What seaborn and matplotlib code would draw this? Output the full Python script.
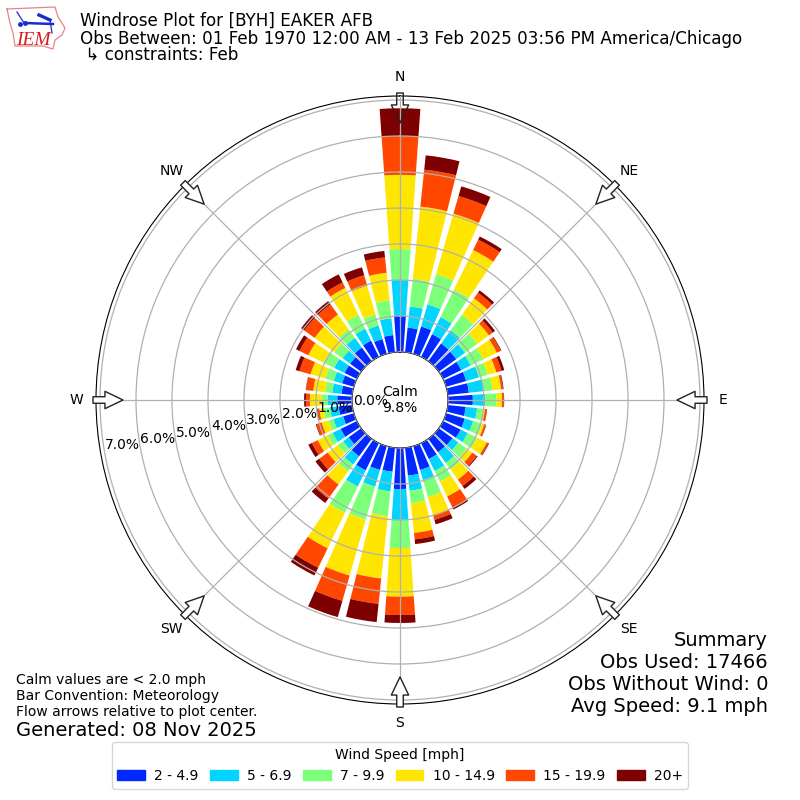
import numpy as np
import pandas as pd
import matplotlib
matplotlib.use("Agg")
import matplotlib.pyplot as plt
import seaborn as sns
from matplotlib.patches import Patch

directions = list(range(0, 360, 10))
band_labels = ["2 - 4.9", "5 - 6.9", "7 - 9.9", "10 - 14.9", "15 - 19.9", "20+"]
band_colors = ["#0028ff", "#00d4ff", "#7cff79", "#ffe600", "#ff4700", "#7f0000"]

# cumulative frequency [%] up to the top of each speed band, N clockwise
upto_4_9 = [1.0, .69, .79, .7, .61, .6, .56, .58, .59, .69, .5, .54, .54, .47, .46, .49, .69, .78,
            1.14, .67, .69, .84, .6, .43, .5, .31, .38, .41, .3, .34, .38, .38, .47, .5, .43, .48]
upto_6_9 = [2.0, 1.28, 1.43, 1.23, 1.06, .9, .85, .95, 1.0, 1.03, .82, .78, .76, .67, .83, .86, .98, 1.2,
            2.0, 1.22, 1.17, 1.34, .88, .62, .75, .59, .62, .68, .56, .58, .7, .64, .8, .87, .82, .95]
upto_9_9 = [2.86, 2.05, 2.3, 2.08, 1.59, 1.32, 1.24, 1.2, 1.25, 1.35, .99, 1.03, 1.05, .96, 1.05, 1.19, 1.47, 1.55,
            2.78, 1.91, 2.12, 2.15, 1.12, .8, .91, .73, .8, .84, .75, .83, 1.02, .92, 1.09, 1.3, 1.14, 1.45]
upto_14_9 = [4.92, 4.07, 4.05, 3.3, 2.16, 1.72, 1.66, 1.45, 1.49, 1.5, 1.04, 1.1, 1.35, 1.15, 1.4, 1.65, 2.0, 2.38,
             4.13, 3.65, 3.74, 3.25, 1.57, 1.15, 1.21, .93, .92, 1.17, 1.09, 1.25, 1.5, 1.6, 1.6, 2.13, 1.97, 2.22]
upto_19_9 = [6.0, 5.1, 4.56, 3.62, 2.35, 1.85, 1.78, 1.6, 1.54, 1.55, 1.09, 1.15, 1.4, 1.3, 1.62, 2.0, 2.13, 2.56,
             4.64, 4.36, 4.47, 3.85, 2.05, 1.44, 1.39, 1.08, .97, 1.28, 1.29, 1.57, 1.77, 1.95, 1.95, 2.3, 2.27, 2.65]
upto_max = [6.77, 5.5, 4.84, 3.72, 2.43, 1.93, 1.8, 1.68, 1.56, 1.56, 1.1, 1.16, 1.42, 1.33, 1.72, 2.05, 2.26, 2.69,
            4.86, 4.87, 4.94, 4.09, 2.2, 1.57, 1.5, 1.1, .99, 1.33, 1.3, 1.68, 1.88, 2.06, 2.06, 2.55, 2.5, 2.83]

compass_angles = [0, 45, 90, 135, 180, 225, 270, 315]
compass_labels = ["N", "NE", "E", "SE", "S", "SW", "W", "NW"]
radial_ticks = [0, 1, 2, 3, 4, 5, 6, 7]


def draw_logo(fig):
    ax = fig.add_axes([0, 1 - 52 / 800, 70 / 800, 52 / 800])
    ax.set_xlim(0, 70)
    ax.set_ylim(52, 0)
    ax.axis("off")
    ox = [7, 55, 58, 65, 62, 55, 53, 43, 15, 13, 10, 7]
    oy = [9, 7, 17, 28, 35, 40, 49, 46, 46, 33, 23, 9]
    ax.plot(ox, oy, color="#e58585", lw=0.9)
    ax.plot([17, 24], [12, 23], color="#1a2bd0", lw=0.9)
    ax.plot([25, 53], [23, 24], color="#1a2bd0", lw=1.8)
    ax.plot([39, 50], [15, 20], color="#1a2bd0", lw=2.4)
    ax.plot([50, 52], [20, 33], color="#1a2bd0", lw=0.9)
    ax.plot([25, 20], [23, 24], "o", color="#1a2bd0", ms=2.5)
    ax.text(16, 45, "IEM", color="#d22020", fontsize=14, family="Liberation Serif",
            style="italic", va="baseline")


def main():
    fig = plt.figure(figsize=(8, 8), dpi=100)
    ax = fig.add_axes([0.12, 0.12, 0.76, 0.76], projection="polar")
    ax.set_theta_zero_location("N")
    ax.set_theta_direction(-1)

    theta = np.deg2rad(directions)
    bands = [upto_4_9, upto_6_9, upto_9_9, upto_14_9, upto_19_9, upto_max]
    bottom = np.zeros(len(directions))
    for band, color in zip(bands, sns.color_palette(band_colors)):
        df = pd.DataFrame({"theta": theta, "freq": np.array(band) - bottom})
        sns.barplot(data=df, x="theta", y="freq", ax=ax, color=color, saturation=1,
                    native_scale=True, width=0.8, errorbar=None, bottom=bottom, linewidth=0)
        bottom = np.array(band)

    ax.set_xlabel("")
    ax.set_ylabel("")
    ax.set_axisbelow(False)
    ax.set_rorigin(-48 / 36)
    ax.set_rmin(0)
    ax.set_rmax(256 / 36)
    ax.set_thetagrids(compass_angles, compass_labels, fontsize=10)
    ax.set_rgrids(radial_ticks, [f"{v:.1f}%" for v in radial_ticks], fontsize=10)
    ax.set_rlabel_position(260)
    ax.grid(True, color="#b0b0b0", lw=0.9)

    # flow arrows pointing at the plot center
    for angle in compass_angles:
        ax.annotate("", xy=(np.deg2rad(angle), (277 - 48) / 36), xytext=(np.deg2rad(angle), (307 - 48) / 36),
                    annotation_clip=False, zorder=4,
                    arrowprops=dict(arrowstyle="simple,head_length=13,head_width=12.5,tail_width=4.7",
                                    mutation_scale=1, shrinkA=0, shrinkB=0, lw=1, ec="#222222",
                                    fc="none" if angle == 0 else "white"))

    ax.text(0.5, 0.5, "Calm\n9.8%", transform=ax.transAxes, ha="center", va="center", fontsize=10, zorder=5)

    fig.text(80 / 800, 1 - 21 / 800, "Windrose Plot for [BYH] EAKER AFB", fontsize=12.05, va="center")
    fig.text(80 / 800, 1 - 38.5 / 800, "Obs Between: 01 Feb 1970 12:00 AM - 13 Feb 2025 03:56 PM America/Chicago",
             fontsize=12.05, va="center")
    fig.text(80 / 800, 1 - 55 / 800, " \u21b3 constraints: Feb", fontsize=12.05, va="center")

    summary = ["Summary", "Obs Used: 17466", "Obs Without Wind: 0", "Avg Speed: 9.1 mph"]
    for i, line in enumerate(summary):
        fig.text(768 / 800, 1 - (640 + 22 * i) / 800, line, fontsize=14, ha="right", va="center")

    notes = ["Calm values are < 2.0 mph", "Bar Convention: Meteorology", "Flow arrows relative to plot center."]
    for i, line in enumerate(notes):
        fig.text(16 / 800, 1 - (680 + 16 * i) / 800, line, fontsize=10, va="center")
    fig.text(16 / 800, 1 - 730 / 800, "Generated: 08 Nov 2025", fontsize=14, va="center")

    handles = [Patch(color=c, label=l) for c, l in zip(band_colors, band_labels)]
    fig.legend(handles=handles, title="Wind Speed [mph]", ncol=6, loc="center",
               bbox_to_anchor=(0.5, 1 - 765.5 / 800), fontsize=10, title_fontsize=10,
               handletextpad=0.65, columnspacing=0.83)

    draw_logo(fig)
    fig.savefig("out.png", dpi=100)


if __name__ == "__main__":
    main()
